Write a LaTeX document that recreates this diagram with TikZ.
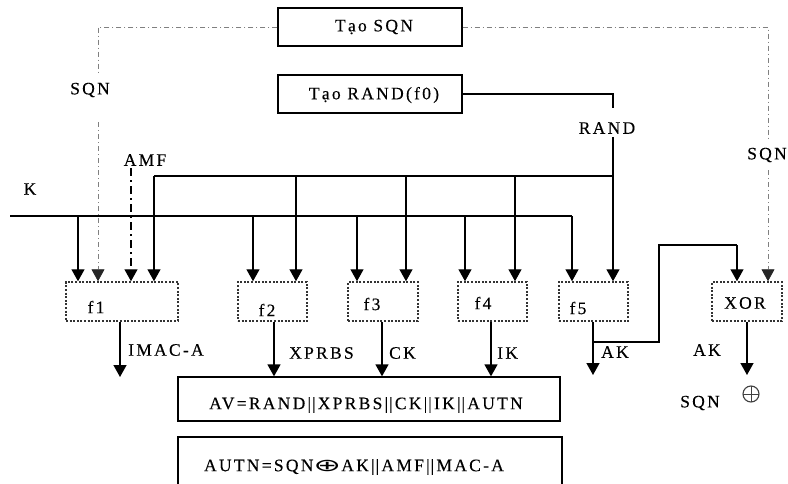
\documentclass[tikz,border=0pt]{standalone}
\usepackage{fontspec}
\usepackage{graphicx}
\setmainfont{Liberation Serif}[LetterSpace=13,FakeBold=0.25]
\newfontfamily\symfont{DejaVu Sans}
\usetikzlibrary{arrows.meta}
\tikzset{
  lbl/.style={inner sep=0pt},
  box/.style={draw, line width=1.3pt, rectangle, inner sep=0pt},
  fbox/.style={draw=black!80, line width=1.5pt, dash pattern=on 2pt off 1.6pt, rectangle, inner sep=0pt},
  ln/.style={line width=1.4pt},
  tip/.style={-{Triangle[width=13pt,length=12pt]}},
  arr/.style={line width=1.4pt, tip},
  sqnl/.style={draw=gray, line width=0.8pt, dash pattern=on 5pt off 3pt on 1pt off 3pt},
  amfl/.style={line width=1.4pt, dash pattern=on 8pt off 4pt on 2pt off 4pt},
}
\begin{document}
\begin{tikzpicture}[x=1pt,y=-1pt,font=\fontsize{17.5}{20}\selectfont]
\useasboundingbox (0,0) rectangle (788,483);
\clip (0,0) rectangle (788,483);
% top boxes
\node[box, minimum width=184pt, minimum height=38pt] (tsqn) at (370,27) {};
\node[lbl] (ltsqn) at (374,27) {Tạo SQN};
\node[box, minimum width=184pt, minimum height=38pt] (trand) at (370,94) {};
\node[lbl] (ltrand) at (374,95) {Tạo RAND(f0)};
% function boxes
\node[fbox, minimum width=112pt, minimum height=39pt] (f1) at (122,301.5) {};
\node[fbox, minimum width=69pt, minimum height=39pt] (f2) at (272.5,301.5) {};
\node[fbox, minimum width=70pt, minimum height=39pt] (f3) at (383,301.5) {};
\node[fbox, minimum width=69pt, minimum height=39pt] (f4) at (492.5,301.5) {};
\node[fbox, minimum width=69pt, minimum height=39pt] (f5) at (593.5,301.5) {};
\node[fbox, minimum width=70pt, minimum height=39pt] (xor) at (747,301.5) {};
\node[lbl] (lf1) at (96,307) {f1};
\node[lbl] (lf2) at (267,310) {f2};
\node[lbl] (lf3) at (372,304) {f3};
\node[lbl] (lf4) at (483,303) {f4};
\node[lbl] (lf5) at (578,308) {f5};
\node[lbl] (lxor) at (745,303) {XOR};
% result boxes
\node[box, minimum width=382pt, minimum height=44pt] (av) at (369,399) {};
\node[lbl] (lav) at (366,405) {AV=RAND|\kern1pt|XPRBS|\kern1pt|CK|\kern1pt|IK|\kern1pt|AUTN};
\node[box, minimum width=384pt, minimum height=64pt] (autn) at (370,469) {};
\node[lbl] (lautn) at (354,467) {AUTN=SQN\scalebox{1.9}[1]{\symfont ⊕}AK|\kern1pt|AMF|\kern1pt|MAC-A};
% labels
\node[lbl] (lsqn1) at (90,90) {SQN};
\node[lbl] (lsqn2) at (767,155) {SQN};
\node[lbl] (lrand) at (607,128) {RAND};
\node[lbl] (lamf) at (145,160) {AMF};
\node[lbl] (lk) at (30,189) {K};
\node[lbl, anchor=west] (lmac) at (128,350) {IMAC-A};
\node[lbl, anchor=west] (lxprbs) at (289,353) {XPRBS};
\node[lbl, anchor=west] (lck) at (389,353) {CK};
\node[lbl, anchor=west] (lik) at (497,353) {IK};
\node[lbl, anchor=west] (lak1) at (601,352) {AK};
\node[lbl] (lak2) at (707,350) {AK};
\node[lbl] (lsqn3) at (700,403) {SQN};
\node[circle, draw=black!75, line width=1.1pt, minimum size=16pt, inner sep=0pt,
  path picture={\draw[line width=1pt] (path picture bounding box.north) -- (path picture bounding box.south)
  (path picture bounding box.west) -- (path picture bounding box.east);}] (oplus) at (751,394) {};
% coordinates
\coordinate (sqnL) at (98,27);
\coordinate (sqnLa) at (98,72);
\coordinate (sqnLb) at (98,122);
\coordinate (sqnR) at (768,27);
\coordinate (sqnRa) at (768,140);
\coordinate (sqnRb) at (768,170);
\coordinate (randC) at (613,94);
\coordinate (randA) at (613,108);
\coordinate (randB) at (613,137);
\coordinate (randH) at (613,176);
\coordinate (r1) at (154,176);
\coordinate (r2) at (296,176);
\coordinate (r3) at (406,176);
\coordinate (r4) at (515,176);
\coordinate (k0) at (10,216);
\coordinate (kE) at (572,216);
\coordinate (k1) at (78,216);
\coordinate (k2) at (253,216);
\coordinate (k3) at (357,216);
\coordinate (k4) at (465,216);
\coordinate (amf0) at (131,168);
\coordinate (o1) at (120,377);
\coordinate (o2) at (274,377);
\coordinate (o3) at (382,377);
\coordinate (o4) at (491,377);
\coordinate (o5) at (593,375);
\coordinate (b5) at (593,342);
\coordinate (b5a) at (659,342);
\coordinate (b5b) at (659,245);
\coordinate (b5c) at (737,245);
\coordinate (ox) at (747,375);
% SQN lines
\draw[sqnl] (tsqn.west |- sqnL) -- (sqnL) -- (sqnLa);
\draw[sqnl, -{Triangle[width=13pt,length=12pt,fill=black!85,color=black!85]}] (sqnLb) -- (sqnLb |- f1.north);
\draw[sqnl] (tsqn.east |- sqnR) -- (sqnR) -- (sqnRa);
\draw[sqnl, -{Triangle[width=13pt,length=12pt,fill=black!85,color=black!85]}] (sqnRb) -- (sqnRb |- xor.north);
% RAND lines
\draw[ln] (trand.east) -- (randC) -- (randA);
\draw[arr] (randB) -- (randB |- f5.north);
\draw[ln] (r1) -- (randH);
\draw[arr] (r1) -- (r1 |- f1.north);
\draw[arr] (r2) -- (r2 |- f2.north);
\draw[arr] (r3) -- (r3 |- f3.north);
\draw[arr] (r4) -- (r4 |- f4.north);
% K lines
\draw[ln] (k0) -- (kE);
\draw[arr] (kE) -- (kE |- f5.north);
\draw[arr] (k1) -- (k1 |- f1.north);
\draw[arr] (k2) -- (k2 |- f2.north);
\draw[arr] (k3) -- (k3 |- f3.north);
\draw[arr] (k4) -- (k4 |- f4.north);
% AMF
\draw[arr, amfl] (amf0) -- (amf0 |- f1.north);
% outputs
\draw[arr] (o1 |- f1.south) -- (o1);
\draw[arr] (o2 |- f2.south) -- (o2 |- av.north);
\draw[arr] (o3 |- f3.south) -- (o3 |- av.north);
\draw[arr] (o4 |- f4.south) -- (o4 |- av.north);
\draw[arr] (o5 |- f5.south) -- (o5);
\draw[ln] (b5) -- (b5a) -- (b5b) -- (b5c);
\draw[arr] (b5c) -- (b5c |- xor.north);
\draw[arr] (ox |- xor.south) -- (ox);
\end{tikzpicture}
\end{document}
